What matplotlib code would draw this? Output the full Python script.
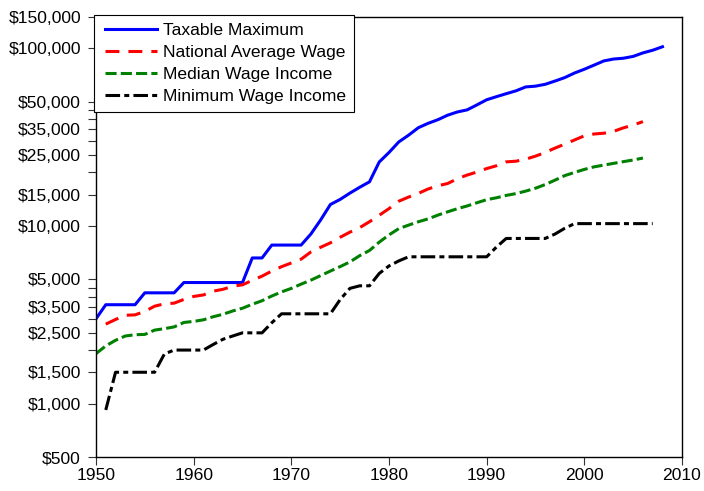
import matplotlib
matplotlib.use('Agg')
import matplotlib.pyplot as plt
from matplotlib.legend_handler import HandlerLine2D
from matplotlib.lines import Line2D
from matplotlib.ticker import FixedLocator, NullLocator

plt.rcParams['font.family'] = ['Liberation Sans', 'DejaVu Sans']
plt.rcParams['lines.scale_dashes'] = False

# ---------------- data ----------------
years_taxable = list(range(1950, 2009))
taxable_maximum = [3000, 3600, 3600, 3600, 3600, 4200, 4200, 4200, 4200,
                   4800, 4800, 4800, 4800, 4800, 4800, 4800, 6600, 6600,
                   7800, 7800, 7800, 7800, 9000, 10800, 13200, 14100, 15300,
                   16500, 17700, 22900, 25900, 29700, 32400, 35700, 37800,
                   39600, 42000, 43800, 45000, 48000, 51300, 53400, 55500,
                   57600, 60600, 61200, 62700, 65400, 68400, 72600, 76200,
                   80400, 84900, 87000, 87900, 90000, 94200, 97500, 102000]

years_awi = list(range(1951, 2007))
national_average_wage = [2799, 2973, 3139, 3156, 3301, 3532, 3642, 3674, 3856, 4007,
                         4087, 4291, 4397, 4576, 4659, 4938, 5213, 5572, 5894, 6186,
                         6497, 7134, 7580, 8031, 8631, 9226, 9779, 10556, 11479, 12513,
                         13773, 14531, 15239, 16135, 16823, 17322, 18427, 19334, 20100, 21028,
                         21812, 22935, 23133, 23754, 24706, 25914, 27426, 28861, 30470, 32155,
                         32922, 33252, 34065, 35649, 36953, 38651]

years_median = list(range(1950, 2007))
median_wage_income = [1910, 2110, 2270, 2400, 2440, 2450, 2590, 2640, 2700, 2860,
                      2900, 2960, 3080, 3180, 3320, 3440, 3620, 3790, 4030, 4250,
                      4450, 4700, 4950, 5250, 5570, 5900, 6270, 6800, 7270, 8100,
                      8900, 9650, 10100, 10550, 10950, 11500, 12000, 12500, 12950, 13500,
                      14050, 14400, 14850, 15200, 15700, 16300, 17100, 18100, 19200, 20000,
                      20800, 21500, 22000, 22500, 23000, 23500, 24100]

years_minimum = list(range(1951, 2008))
minimum_wage_income = [920, 1500, 1500, 1500, 1500, 1500, 1900, 2000, 2000, 2000,
                       2000, 2150, 2300, 2400, 2500, 2500, 2500, 2850, 3200, 3200,
                       3200, 3200, 3200, 3200, 3850, 4450, 4600, 4600, 5400, 5950,
                       6350, 6700, 6700, 6700, 6700, 6700, 6700, 6700, 6700, 6700,
                       7600, 8500, 8500, 8500, 8500, 8500, 9000, 9700, 10300, 10300,
                       10300, 10300, 10300, 10300, 10300, 10300, 10300]

series_labels = ['Taxable Maximum', 'National Average Wage',
                 'Median Wage Income', 'Minimum Wage Income']

ytick_values = [500, 1000, 1500, 2000, 2500, 3000, 3500, 4000, 4500, 5000,
                10000, 15000, 20000, 25000, 30000, 35000, 40000, 45000, 50000,
                100000, 150000]
ytick_labels = ['$500', '$1,000', '$1,500', '', '$2,500', '', '$3,500', '', '', '$5,000',
                '$10,000', '$15,000', '', '$25,000', '', '$35,000', '', '', '$50,000',
                '$100,000', '$150,000']
xtick_values = [1950, 1960, 1970, 1980, 1990, 2000, 2010]

# ---------------- figure ----------------
W, H = 704, 491
fig = plt.figure(figsize=(W / 100, H / 100), dpi=100)
ax = fig.add_axes([96 / W, (H - 457) / H, 586 / W, 440 / H])

FS = 12.6
lw = 2.2
l1, = ax.plot(years_taxable, taxable_maximum, color='#0000FF', lw=lw,
              solid_joinstyle='round', label=series_labels[0])
l2, = ax.plot(years_awi, national_average_wage, color='#FF0000', lw=lw,
              dashes=(10, 6.5), label=series_labels[1])
l3, = ax.plot(years_median, median_wage_income, color='#008000', lw=lw,
              dashes=(8, 3), label=series_labels[2])
l4, = ax.plot(years_minimum, minimum_wage_income, color='black', lw=lw,
              dashes=(10.5, 3, 3.6, 3), label=series_labels[3])

ax.set_yscale('log')
ax.set_ylim(500, 150000)
ax.set_xlim(1950, 2010)
ax.yaxis.set_major_locator(FixedLocator(ytick_values))
ax.yaxis.set_minor_locator(NullLocator())
ax.set_yticklabels(ytick_labels)
ax.set_xticks(xtick_values)
ax.set_xticklabels([str(v) for v in xtick_values])

ax.tick_params(axis='both', which='major', direction='out', length=5.8,
               width=0.8, color='#333333', labelsize=FS, labelcolor='black')
ax.tick_params(axis='y', pad=5)
ax.tick_params(axis='x', pad=2)
for s in ax.spines.values():
    s.set_linewidth(1.0)
    s.set_color('black')

handler = HandlerLine2D(xpad=0.155)
leg = fig.legend(handles=[l1, l2, l3, l4], loc='upper left',
                 bbox_to_anchor=(94 / W, 1 - 15 / H), bbox_transform=fig.transFigure,
                 borderaxespad=0, fontsize=FS, frameon=True, fancybox=False,
                 edgecolor='black', framealpha=1, borderpad=0.45,
                 labelspacing=0.38, handlelength=3.17, handletextpad=0.34,
                 handler_map={Line2D: handler})
leg.get_frame().set_linewidth(0.8)

fig.savefig('out.png', dpi=100)
